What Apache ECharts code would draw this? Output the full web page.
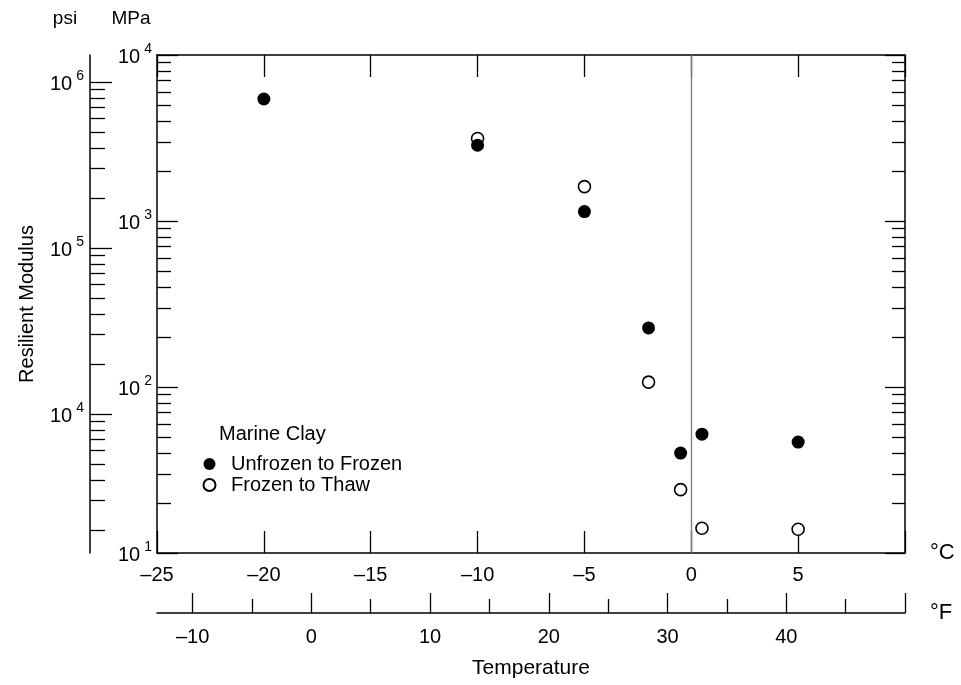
<!DOCTYPE html>
<html><head><meta charset="utf-8">
<script src="https://cdn.jsdelivr.net/npm/echarts@6/dist/echarts.min.js"></script>
<style>html,body{margin:0;padding:0;background:#fff}#c{width:961px;height:685px}</style>
</head><body><div id="c"></div>
<script>
// ---- data (temperature in °C, resilient modulus in MPa) ----
const tempUnfrozen = [-20, -10, -5, -2, -0.5, 0.5, 5];
const modUnfrozen  = [5430, 2860, 1140, 227, 40, 52, 46.6];
const tempThaw     = [-10, -5, -2, -0.5, 0.5, 5];
const modThaw      = [3140, 1610, 107, 24.1, 14.1, 13.9];

// ---- axis ticks / labels ----
const celsiusTicks      = [-25, -20, -15, -10, -5, 0, 5, 10];
const celsiusLabels     = [-25, -20, -15, -10, -5, 0, 5];
const fahrenheitMajor   = [-10, 0, 10, 20, 30, 40, 50];
const fahrenheitMinor   = [-5, 5, 15, 25, 35, 45];
const fahrenheitLabels  = [-10, 0, 10, 20, 30, 40];
const mpaDecades        = [1, 2, 3, 4];      // 10^1 .. 10^4 MPa
const psiDecades        = [4, 5, 6];         // 10^4 .. 10^6 psi
const minorMultipliers  = [2, 3, 4, 5, 6, 7, 8, 9];
const PSI_PER_MPA = 145.0377;

const lg = Math.log10;
const mpaMin = 10, mpaMax = 10000;
const psiMin = mpaMin * PSI_PER_MPA, psiMax = mpaMax * PSI_PER_MPA;

const mpaMinor = [];
for (let d = 1; d <= 3; d++) minorMultipliers.forEach(m => mpaMinor.push(lg(m * Math.pow(10, d))));
const psiMinor = [];
for (let d = 3; d <= 6; d++) minorMultipliers.forEach(m => {
  const v = m * Math.pow(10, d);
  if (v > psiMin && v < psiMax) psiMinor.push(lg(v));
});

const dash = v => String(v).replace('-', '\u2013');
const FONT = 'Liberation Sans';
const BLACK = '#000';
const lineS = {color: BLACK, width: 1.5};
const noZeroLine = {onZero: false, lineStyle: lineS};
const tickS = {color: BLACK, width: 1.3};
const powRich = {
  b: {fontSize: 20, fontFamily: FONT, color: BLACK, lineHeight: 25, verticalAlign: 'bottom'},
  s: {fontSize: 14, fontFamily: FONT, color: BLACK, padding: [0, 0, 0, 4], verticalAlign: 'top'}
};
const powFmt = v => '{b|10}{s|' + Math.round(v) + '}';

const chart = echarts.init(document.getElementById('c'));
chart.setOption({
  animation: false,
  backgroundColor: '#fff',
  textStyle: {fontFamily: FONT, color: BLACK},
  grid: {left: 157, right: 56, top: 55, bottom: 132, containLabel: false},
  title: {
    text: 'Marine Clay', left: 219, top: 424, padding: 0,
    textStyle: {fontSize: 20, fontWeight: 'normal', color: BLACK, fontFamily: FONT}
  },
  legend: {
    data: ['Unfrozen to Frozen', 'Frozen to Thaw'],
    orient: 'vertical', left: 202.5, top: 454, padding: 0,
    itemWidth: 33, itemHeight: 12, itemGap: 1,
    textStyle: {fontSize: 20, color: BLACK, fontFamily: FONT, lineHeight: 20}
  },
  xAxis: [
    { // Celsius, bottom
      type: 'value', position: 'bottom', min: -25, max: 10, interval: 5,
      axisLine: noZeroLine,
      axisTick: {inside: true, length: 22, lineStyle: tickS, customValues: celsiusTicks},
      axisLabel: {customValues: celsiusLabels, formatter: dash, fontSize: 20, color: BLACK, margin: 12},
      splitLine: {show: false},
      name: '°C', nameLocation: 'end', nameGap: 25,
      nameTextStyle: {fontSize: 22, color: BLACK, padding: [44, 0, 0, 0]}
    },
    { // top border
      type: 'value', position: 'top', min: -25, max: 10, interval: 5,
      axisLine: noZeroLine,
      axisTick: {inside: true, length: 22, lineStyle: tickS, customValues: celsiusTicks},
      axisLabel: {show: false}, splitLine: {show: false}
    },
    { // Fahrenheit major
      type: 'value', position: 'bottom', offset: 60,
      min: -25 * 9 / 5 + 32, max: 10 * 9 / 5 + 32,
      axisLine: noZeroLine,
      axisTick: {inside: true, length: 20, lineStyle: tickS, customValues: fahrenheitMajor},
      axisLabel: {customValues: fahrenheitLabels, formatter: dash, fontSize: 20, color: BLACK, margin: 14},
      splitLine: {show: false},
      name: '°F', nameLocation: 'end', nameGap: 25,
      nameTextStyle: {fontSize: 22, color: BLACK, padding: [48, 0, 0, 0]}
    },
    { // Fahrenheit minor
      type: 'value', position: 'bottom', offset: 60,
      min: -25 * 9 / 5 + 32, max: 10 * 9 / 5 + 32,
      axisLine: {show: false, onZero: false},
      axisTick: {inside: true, length: 14, lineStyle: tickS, customValues: fahrenheitMinor},
      axisLabel: {show: false}, splitLine: {show: false},
      name: 'Temperature', nameLocation: 'middle', nameGap: 45,
      nameTextStyle: {fontSize: 21, color: BLACK}
    }
  ],
  yAxis: [
    { // MPa major (log10 space)
      type: 'value', position: 'left', min: lg(mpaMin), max: lg(mpaMax), interval: 1,
      axisLine: noZeroLine,
      axisTick: {inside: true, length: 21, lineStyle: tickS, customValues: mpaDecades},
      axisLabel: {customValues: mpaDecades, formatter: powFmt, rich: powRich, margin: 5},
      splitLine: {show: false},
      name: 'MPa', nameLocation: 'end', nameGap: 27,
      nameTextStyle: {fontSize: 19, color: BLACK, padding: [0, 52, 0, 0]}
    },
    { // MPa minor
      type: 'value', position: 'left', min: lg(mpaMin), max: lg(mpaMax),
      axisLine: {show: false, onZero: false},
      axisTick: {inside: true, length: 14, lineStyle: tickS, customValues: mpaMinor},
      axisLabel: {show: false}, splitLine: {show: false}
    },
    { // right border major
      type: 'value', position: 'right', min: lg(mpaMin), max: lg(mpaMax), interval: 1,
      axisLine: noZeroLine,
      axisTick: {inside: true, length: 20, lineStyle: tickS, customValues: mpaDecades},
      axisLabel: {show: false}, splitLine: {show: false}
    },
    { // right border minor
      type: 'value', position: 'right', min: lg(mpaMin), max: lg(mpaMax),
      axisLine: {show: false, onZero: false},
      axisTick: {inside: true, length: 13, lineStyle: tickS, customValues: mpaMinor},
      axisLabel: {show: false}, splitLine: {show: false}
    },
    { // psi major
      type: 'value', position: 'left', offset: 67, min: lg(psiMin), max: lg(psiMax),
      axisLine: noZeroLine,
      axisTick: {inside: true, length: 22, lineStyle: tickS, customValues: psiDecades},
      axisLabel: {customValues: psiDecades, formatter: powFmt, rich: powRich, margin: 6},
      splitLine: {show: false},
      name: 'psi', nameLocation: 'end', nameGap: 27,
      nameTextStyle: {fontSize: 19, color: BLACK, padding: [0, 50, 0, 0]}
    },
    { // psi minor
      type: 'value', position: 'left', offset: 67, min: lg(psiMin), max: lg(psiMax),
      axisLine: {show: false, onZero: false},
      axisTick: {inside: true, length: 15, lineStyle: tickS, customValues: psiMinor},
      axisLabel: {show: false}, splitLine: {show: false},
      name: 'Resilient Modulus', nameLocation: 'middle', nameGap: 53,
      nameTextStyle: {fontSize: 20, color: BLACK}
    }
  ],
  series: [
    {
      name: 'Unfrozen to Frozen', type: 'scatter', xAxisIndex: 0, yAxisIndex: 0, z: 4,
      symbol: 'circle', symbolSize: 13,
      itemStyle: {color: BLACK, opacity: 1},
      data: tempUnfrozen.map((t, i) => [t, lg(modUnfrozen[i])]),
      markLine: {
        silent: true, symbol: ['none', 'none'], label: {show: false},
        lineStyle: {color: '#7a7a7a', width: 1.3, type: 'solid'},
        data: [{xAxis: 0}]
      }
    },
    {
      name: 'Frozen to Thaw', type: 'scatter', xAxisIndex: 0, yAxisIndex: 0, z: 3,
      symbol: 'circle', symbolSize: 12,
      itemStyle: {color: '#fff', borderColor: BLACK, borderWidth: 1.6, opacity: 1},
      data: tempThaw.map((t, i) => [t, lg(modThaw[i])])
    }
  ]
});
</script></body></html>
